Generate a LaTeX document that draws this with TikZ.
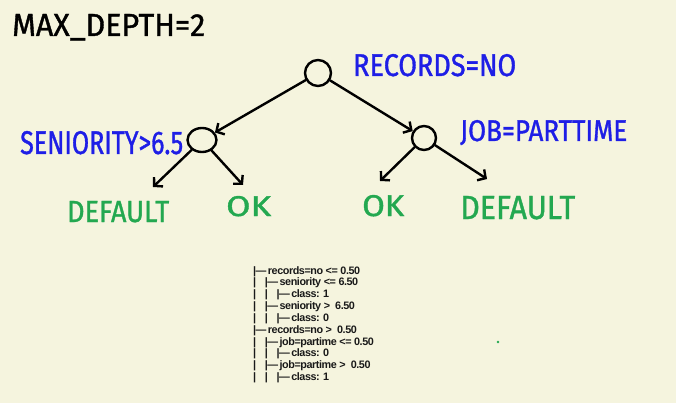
\documentclass[tikz,border=0pt]{standalone}
\usepackage{fontspec}
\setmainfont{Liberation Sans}
\newfontfamily\handfont[FakeBold=1.2]{Fira Sans}
\newfontfamily\treefont[LetterSpace=-4]{Liberation Sans}
\usetikzlibrary{shapes.geometric,arrows.meta}
\definecolor{paper}{RGB}{245,244,222}
\definecolor{penblue}{RGB}{30,30,230}
\definecolor{pengreen}{RGB}{35,168,80}
\definecolor{ink}{RGB}{25,25,25}
% handwritten words, fitted to width x cap height
\newcommand\hand[3]{\resizebox{#1pt}{#2pt}{\handfont #3}}
\newcommand\vbar{\makebox[11.7pt][l]{|}}
\newcommand\branch{|\kern-0.6pt—\kern1.5pt}
\tikzset{
  split/.style={draw,line width=2.4pt,inner sep=0pt},
  handlbl/.style={inner sep=0pt,anchor=base west},
  arr/.style={line width=2.4pt,line cap=round,-{Straight Barb[length=6pt,width=13pt]}},
  treeline/.style={inner sep=0pt,anchor=base west,text=ink,font=\treefont\bfseries\fontsize{10.8}{12}\selectfont}
}
\begin{document}
\begin{tikzpicture}[x=1pt,y=-1pt]
  \fill[paper] (0,0) rectangle (676,403);
  \useasboundingbox (0,0) rectangle (676,403);
  %Title
  \node[handlbl] (title) at (12,36) {\hand{193}{22}{MAX\_DEPTH=2}};
  %Splits
  \node[split,circle,minimum size=26pt] (root) at (318,73) {};
  \node[split,ellipse,minimum width=29pt,minimum height=24pt] (lsplit) at (202,140) {};
  \node[split,circle,minimum size=24pt] (rsplit) at (424,138) {};
  %Split labels
  \node[handlbl,text=penblue] (rootlbl) at (353,76) {\hand{163}{22}{RECORDS=NO}};
  \node[handlbl,text=penblue] (llbl) at (20,154) {\hand{163}{23}{SENIORITY>6.5}};
  \node[handlbl,text=penblue] (rlbl) at (460,141) {\hand{167}{21}{JOB=PARTTIME}};
  %Leaves
  \node[handlbl,text=pengreen] (def1) at (67,222) {\hand{102}{21}{DEFAULT}};
  \node[handlbl,text=pengreen] (ok1) at (226,216) {\hand{45}{20}{OK}};
  \node[handlbl,text=pengreen] (ok2) at (362,216) {\hand{42}{21}{OK}};
  \node[handlbl,text=pengreen] (def2) at (460,219) {\hand{115}{23}{DEFAULT}};
  %Arrow tips above the leaves
  \coordinate (tdef1) at (153,187);
  \coordinate (tok1) at (243,185);
  \coordinate (tok2) at (380,181);
  \coordinate (tdef2) at (487,179);
  %Arrows
  \draw[arr] (root) -- (lsplit);
  \draw[arr] (root) -- (rsplit);
  \draw[arr] (lsplit) -- (tdef1);
  \draw[arr] (lsplit) -- (tok1);
  \draw[arr] (rsplit) -- (tok2);
  \draw[arr] (rsplit) -- (tdef2);
  %Text tree
  \foreach \i/\t in {
      0/{\branch records=no <= 0.50},
      1/{\vbar\branch seniority <= 6.50},
      2/{\vbar\vbar\branch class: 1},
      3/{\vbar\branch seniority >\ \ 6.50},
      4/{\vbar\vbar\branch class: 0},
      5/{\branch records=no >\ \ 0.50},
      6/{\vbar\branch job=partime <= 0.50},
      7/{\vbar\vbar\branch class: 0},
      8/{\vbar\branch job=partime >\ \ 0.50},
      9/{\vbar\vbar\branch class: 1}}
    \node[treeline] (l\i) at (253,274+11.85*\i) {\t};
  %Stray dot
  \fill[pengreen] (498,342) circle (1.3);
\end{tikzpicture}
\end{document}
